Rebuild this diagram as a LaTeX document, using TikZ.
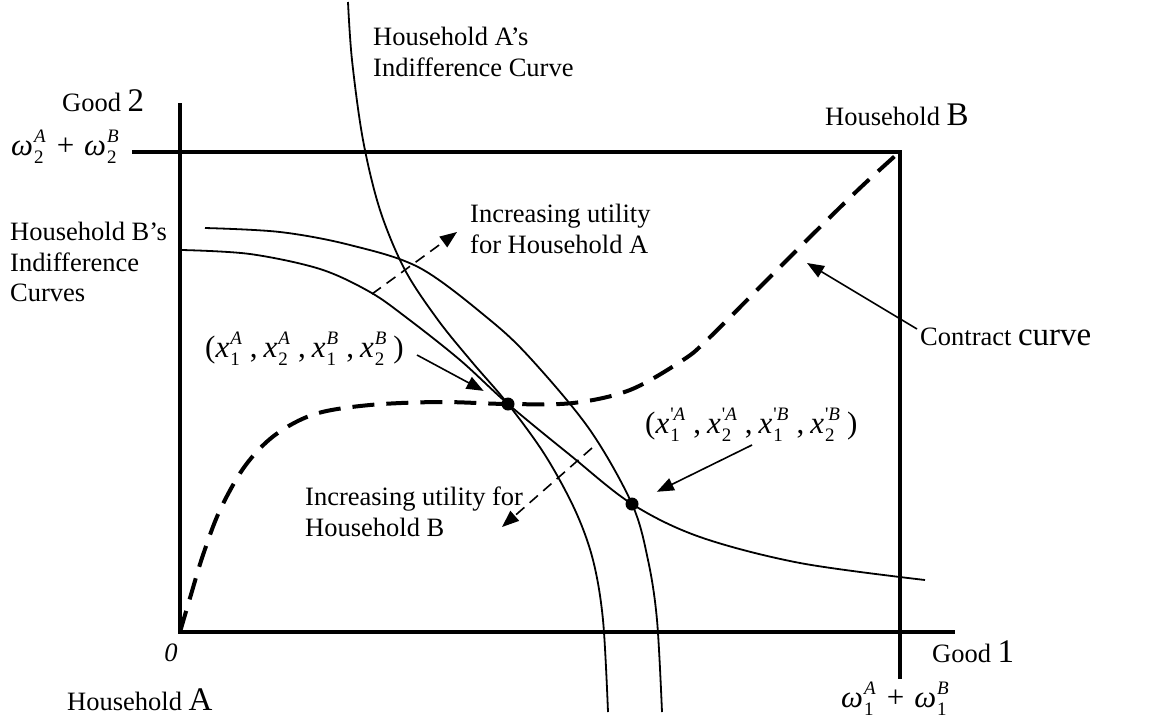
\documentclass[tikz,border=0pt]{standalone}
\usepackage{fontspec}
\setmainfont{Liberation Serif}
\newfontfamily\rawserif{Liberation Serif}
\usetikzlibrary{arrows.meta}
\newcommand{\ts}{\fontsize{26.5}{30.5}\selectfont}
\newcommand{\lgr}{\fontsize{33}{33}\selectfont}
\newcommand{\mfs}{\fontsize{31}{34}\selectfont}
\newcommand{\scr}{\fontsize{19}{19}\selectfont}
\newcommand{\xs}[3]{\textit{#1}\hspace{1pt}\makebox[0pt][l]{\raisebox{-8pt}{\scr #2}}\raisebox{13pt}{\scr #3}}
\newcommand{\pr}{{\rawserif '}}
\newcommand{\sep}{\hspace{8pt},\hspace{6pt}}
\begin{document}
\begin{tikzpicture}[x=1pt,y=-1pt,
  axis/.style={line width=4pt},
  icurve/.style={line width=1.8pt},
  contract/.style={line width=4pt, dash pattern=on 22pt off 12pt},
  ptr/.style={line width=1.6pt, -{Triangle[length=17pt,width=13pt]}},
  dptr/.style={line width=1.6pt, dash pattern=on 11pt off 7pt, -{Triangle[length=17pt,width=13pt]}},
  lbl/.style={inner sep=0pt, anchor=base west, font=\ts},
  mlbl/.style={inner sep=0pt, anchor=north west, font=\ts, align=left},
  dot/.style={circle, fill, inner sep=0pt, minimum size=13pt}]
\useasboundingbox (0,0) rectangle (1159,724);
% box / axes
\draw[axis] (180,103) -- (180,632) -- (955,632);
\draw[axis] (132,151.5) -- (900,151.5) -- (900,679);
% Household A's indifference curve
\draw[icurve] plot[smooth, tension=0.55] coordinates {(348,2) (352,60) (363,140) (380,210) (405,270) (438,320) (472,362) (508,404) (545,455) (575,510) (593,560) (603,620) (608,712)};
% second curve (through point 2)
\draw[icurve] plot[smooth, tension=0.55] coordinates {(205,228) (280,232) (350,245) (420,268) (490,320) (532,360) (590,430) (632,504) (648,560) (657,620) (662,712)};
% Household B's indifference curve
\draw[icurve] plot[smooth, tension=0.55] coordinates {(182,250) (250,254) (320,269) (370,292) (407,318) (460,360) (508,404) (570,455) (632,504) (700,537) (800,563) (925,580)};
% contract curve
\draw[contract] plot[smooth, tension=0.55] coordinates {(180,632) (190,598) (203,555) (220,510) (245,466) (275,435) (315,414) (370,405) (440,402) (508,404) (573,403) (630,390) (683,360) (707,340) (760,287) (810,237) (860,188) (900,151.5)};
% points
\node[dot] (p1) at (508,404) {};
\node[dot] (p2) at (632,504) {};
% labels
\node[lbl] (good2) at (62,111) {Good {\lgr 2}};
\node[lbl, font=\mfs] (om2) at (11,155) {\xs{ω}{2}{\textit{A}}\hspace{11pt}+\hspace{10pt}\xs{ω}{2}{\textit{B}}};
\node[lbl] (hB) at (825,125) {Household {\lgr B}};
\node[mlbl] (hAic) at (373,27) {Household A’s\\Indifference Curve};
\node[mlbl] (hBic) at (10,222) {Household B’s\\Indifference\\Curves};
\node[mlbl] (incA) at (470,204) {Increasing utility\\for Household A};
\node[mlbl] (incB) at (305,487) {Increasing utility for\\Household B};
\node[lbl] (cc) at (920,345) {Contract {\lgr curve}};
\node[lbl, font=\mfs] (lab1) at (205,357) {(\xs{x}{1}{\textit{A}}\sep\xs{x}{2}{\textit{A}}\sep\xs{x}{1}{\textit{B}}\sep\xs{x}{2}{\textit{B}}\hspace{7pt})};
\node[lbl, font=\mfs] (lab2) at (645,433) {(\xs{x}{1}{\pr\textit{A}}\sep\xs{x}{2}{\pr\textit{A}}\sep\xs{x}{1}{\pr\textit{B}}\sep\xs{x}{2}{\pr\textit{B}}\hspace{7pt})};
\node[inner sep=0pt, font=\ts\itshape] (zero) at (171,653) {0};
\node[lbl] (good1) at (932,662) {Good {\lgr 1}};
\node[lbl] (hA) at (67,710) {Household {\lgr A}};
\node[lbl, font=\mfs] (om1) at (841,707) {\xs{ω}{1}{\textit{A}}\hspace{11pt}+\hspace{10pt}\xs{ω}{1}{\textit{B}}};
% arrows
\coordinate (a1s) at (417,355);
\draw[ptr, shorten >=21pt] (a1s) -- (p1);
\coordinate (a2s) at (752,445);
\draw[ptr, shorten >=21pt] (a2s) -- (p2);
\coordinate (ccs) at (917,329);
\coordinate (cce) at (807,263);
\draw[ptr] (ccs) -- (cce);
\coordinate (uAs) at (372,294);
\coordinate (uAe) at (457,232);
\draw[dptr] (uAs) -- (uAe);
\coordinate (uBs) at (592,448);
\coordinate (uBe) at (502,527);
\draw[dptr] (uBs) -- (uBe);
\end{tikzpicture}
\end{document}
